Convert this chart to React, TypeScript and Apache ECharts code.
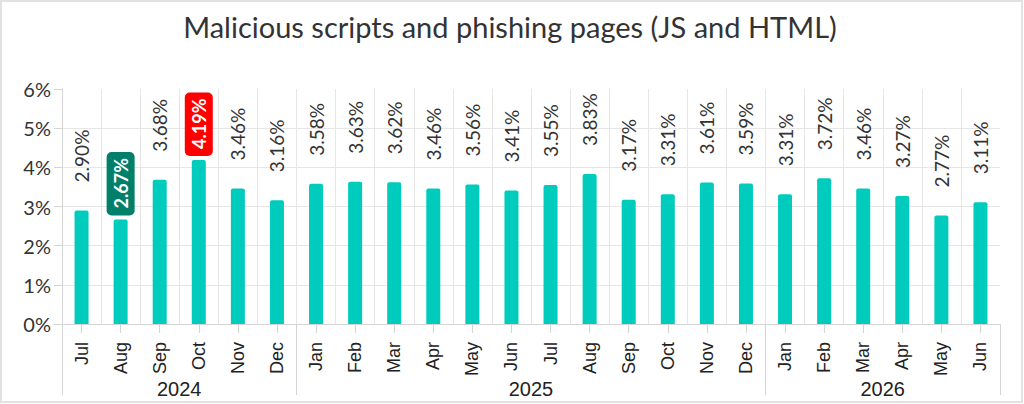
import React, { useEffect, useRef } from 'react';
import * as echarts from 'echarts';

const titleText = 'Malicious scripts and phishing pages (JS and HTML)';
const months = ['Jul', 'Aug', 'Sep', 'Oct', 'Nov', 'Dec', 'Jan', 'Feb', 'Mar', 'Apr', 'May', 'Jun', 'Jul', 'Aug', 'Sep', 'Oct', 'Nov', 'Dec', 'Jan', 'Feb', 'Mar', 'Apr', 'May', 'Jun'];
const values = [2.90, 2.67, 3.68, 4.19, 3.46, 3.16, 3.58, 3.63, 3.62, 3.46, 3.56, 3.41, 3.55, 3.83, 3.17, 3.31, 3.61, 3.59, 3.31, 3.72, 3.46, 3.27, 2.77, 3.11];
const years = ['2024', '2025', '2026'];
const yearMonthCounts = [6, 12, 6];
const yMin = 0;
const yMax = 6;
const yStep = 1;

const boundaries: number[] = [0];
yearMonthCounts.forEach((c) => boundaries.push(boundaries[boundaries.length - 1] + c));
const yearMids = yearMonthCounts.map((c, i) => boundaries[i] + c / 2);

const minIdx = values.indexOf(Math.min(...values));
const maxIdx = values.indexOf(Math.max(...values));

const GRID = '#e6e6e6';
const AXIS = '#d4d4d4';

export default function App() {
  const ref = useRef<HTMLDivElement>(null);
  useEffect(() => {
    document.body.style.margin = '0';
    const chart = echarts.init(ref.current!, undefined, { renderer: 'svg' });
    const hl = (bg: string) => ({
      show: true,
      distance: 4,
      backgroundColor: bg,
      borderRadius: 5,
      padding: [5, 6, 5, 7],
      color: '#fff',
      fontWeight: 'bold',
      fontSize: 18,
    });
    chart.setOption({
      animation: false,
      backgroundColor: '#fff',
      title: {
        text: titleText,
        left: 505,
        top: 7,
        textAlign: 'center',
        textStyle: { fontFamily: 'Lato', fontSize: 29, fontWeight: 'normal', color: '#333' },
      },
      graphic: [
        {
          type: 'rect',
          shape: { x: 1, y: 1, width: 1021, height: 401 },
          style: { fill: 'none', stroke: '#e2e2e2', lineWidth: 2 },
          silent: true,
        },
      ],
      grid: { left: 62, right: 24, top: 89, bottom: 80 },
      xAxis: [
        {
          type: 'category',
          data: months,
          position: 'bottom',
          axisLine: { show: true, lineStyle: { color: AXIS, width: 1 } },
          axisTick: { show: true, alignWithLabel: true, length: 9, lineStyle: { color: AXIS } },
          splitLine: { show: true, showMaxLine: false, lineStyle: { color: GRID } },
          axisLabel: {
            rotate: 90,
            interval: 0,
            margin: 18,
            padding: [0, 0, 14, 0],
            fontFamily: 'Liberation Sans',
            fontSize: 18,
            color: '#222',
          },
        },
        {
          type: 'value',
          position: 'bottom',
          min: 0,
          max: months.length,
          axisLine: { show: false, onZero: false },
          splitLine: { show: false },
          axisTick: { show: true, customValues: boundaries, length: 71, lineStyle: { color: AXIS } },
          axisLabel: {
            show: true,
            customValues: yearMids,
            margin: 55,
            fontFamily: 'Liberation Sans',
            fontSize: 20,
            color: '#222',
            formatter: (v: number) => {
              const i = yearMids.indexOf(v);
              return i >= 0 ? years[i] : '';
            },
          },
        },
      ],
      yAxis: {
        type: 'value',
        min: yMin,
        max: yMax,
        interval: yStep,
        axisLine: { show: true, onZero: false, lineStyle: { color: AXIS } },
        axisTick: { show: true, length: 8, lineStyle: { color: AXIS } },
        splitLine: { show: true, showMaxLine: false, lineStyle: { color: GRID } },
        axisLabel: {
          margin: 11,
          formatter: '{value}%',
          fontFamily: 'Lato',
          fontSize: 20,
          color: '#333',
        },
      },
      series: [
        {
          type: 'bar',
          xAxisIndex: 0,
          yAxisIndex: 0,
          barWidth: 14,
          itemStyle: { color: '#00CCBD', borderRadius: [2, 2, 0, 0] },
          label: {
            show: true,
            position: 'top',
            rotate: 90,
            align: 'left',
            verticalAlign: 'middle',
            distance: 28,
            fontFamily: 'Lato',
            fontSize: 19,
            color: '#333',
            formatter: (p: any) => Number(p.value).toFixed(2) + '%',
          },
          data: values.map((v, i) => ({
            value: v,
            label: i === minIdx ? hl('#00806A') : i === maxIdx ? hl('#FF0000') : undefined,
          })),
        },
      ],
    });
    return () => chart.dispose();
  }, []);
  return <div ref={ref} style={{ width: 1024, height: 404 }} />;
}
